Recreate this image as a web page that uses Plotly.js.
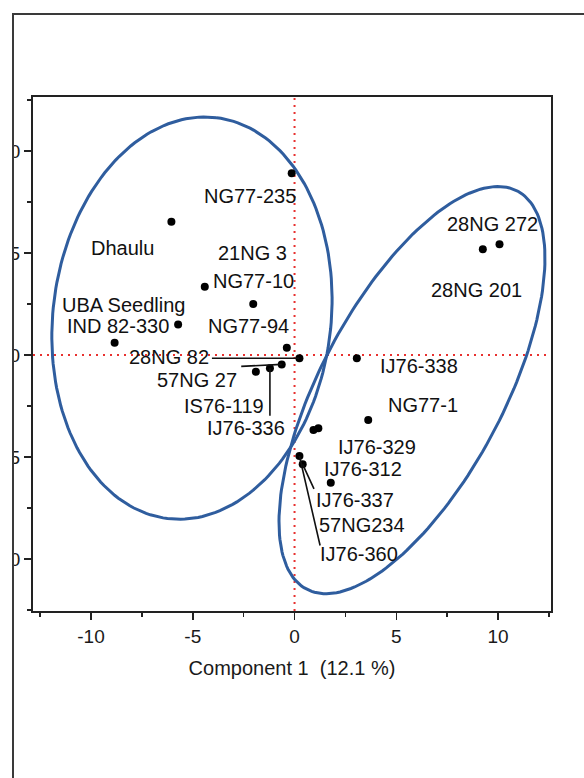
<!DOCTYPE html>
<html><head><meta charset="utf-8">
<script src="https://cdn.plot.ly/plotly-3.0.1.min.js"></script>
<style>html,body{margin:0;padding:0;background:#fff;} #chart{width:584px;height:778px;}</style>
</head><body><div id="chart"></div>
<script>
// ---- data ----
const names = ['NG77-235','Dhaulu','NG77-10','21NG 3','IND 82-330','UBA Seedling','NG77-94',
  '28NG 82','57NG 27','IJ76-336','IS76-119',
  '28NG 201','28NG 272','IJ76-338','NG77-1','IJ76-329','IJ76-312','IJ76-360','IJ76-337','57NG234'];
const component1 = [-0.14,-6.05,-4.41,-2.03,-5.72,-8.84,-0.38,
  0.24,-0.63,-1.21,-1.90,
  9.25,10.07,3.06,3.62,0.93,1.17,0.24,0.40,1.78];
const component2 = [8.91,6.53,3.35,2.50,1.50,0.60,0.36,
  -0.16,-0.46,-0.65,-0.82,
  5.18,5.43,-0.16,-3.19,-3.68,-3.59,-4.95,-5.36,-6.26];
const xTickVals = [-10,-5,0,5,10];
const xTickText = ['-10','-5','0','5','10'];
const yTickVals = [-10,-5,0,5,10];
const yTickText = ['-10','-5','0','5','10'];
const xTitle = 'Component 1\u00a0 (12.1 %)';

// group ellipses: [centerX, centerY, semiMajor, semiMinor, angleDeg]
const ellipseGroup1 = [-5.04, 1.81, 9.9, 6.83, 83];
const ellipseGroup2 = [5.77, -1.72, 11.05, 4.5, 62];

// ---- layout helpers (pixel offsets of labels / leader lines) ----
const labelOffsets = [[-42,23],[-49,26],[49,-6],[-1,-51],[-60,2],[9,-38],[-38,-22],
  [-130,-1],[-85,16],[-24,60],[-32,34],
  [-6,41],[-7,-20],[62,8],[55,-15],[64,17],[45,41],[60,98],[52,36],[31,42]];
const leaders = {'28NG 82':[-89,0],'57NG 27':[-42,2],'IJ76-336':[0,49],'IJ76-337':[12,26],'IJ76-360':[21,91]};

function ellipsePts(p){
  const [cx,cy,a,b,ang]=p; const t=ang*Math.PI/180; const xs=[],ys=[];
  for(let i=0;i<=200;i++){const s=2*Math.PI*i/200;
    const u=a*Math.cos(s), v=b*Math.sin(s);
    xs.push(cx+u*Math.cos(t)-v*Math.sin(t)); ys.push(cy+u*Math.sin(t)+v*Math.cos(t));}
  return {xs,ys};
}
const e1=ellipsePts(ellipseGroup1), e2=ellipsePts(ellipseGroup2);
const blue='#2f5d9e';
const FONT='Arial, "Liberation Sans", Helvetica, sans-serif';

const traces=[
  {x:e1.xs,y:e1.ys,mode:'lines',line:{color:blue,width:3},hoverinfo:'skip'},
  {x:e2.xs,y:e2.ys,mode:'lines',line:{color:blue,width:3},hoverinfo:'skip'},
  {x:component1,y:component2,mode:'markers',marker:{color:'#000',size:8},text:names}
];

const annotations=[];
names.forEach((n,i)=>{
  annotations.push({x:component1[i],y:component2[i],xref:'x',yref:'y',text:n,showarrow:false,
    xshift:labelOffsets[i][0],yshift:-labelOffsets[i][1],xanchor:'center',yanchor:'middle',
    font:{family:FONT,size:20,color:'#111'}});
  if(leaders[n]){
    annotations.push({x:component1[i],y:component2[i],xref:'x',yref:'y',text:'',showarrow:true,
      arrowhead:0,arrowwidth:1.6,arrowcolor:'#111',ax:leaders[n][0],ay:leaders[n][1],standoff:0,startstandoff:0});
  }
});

// plot area pixel geometry
const L=33,R=551,T=97,B=611,W=584,H=778;
const px=(v)=>(v-L)/(R-L), py=(v)=>(B-v)/(B-T);

const shapes=[
  {type:'line',xref:'x',yref:'paper',x0:0,x1:0,y0:0,y1:1,line:{color:'#e8312f',width:2,dash:'2px,5px'},layer:'below'},
  {type:'line',xref:'paper',yref:'y',x0:0,x1:1,y0:0,y1:0,line:{color:'#e8312f',width:2,dash:'2px,5px'},layer:'below'},
  {type:'rect',xref:'paper',yref:'paper',x0:px(-20),x1:px(12),y0:py(H+20),y1:py(-20),fillcolor:'#fff',line:{width:0},layer:'above'},
  {type:'line',xref:'paper',yref:'paper',x0:px(13),x1:px(13),y0:py(H+5),y1:py(13),line:{color:'#3a3a3a',width:2},layer:'above'},
  {type:'line',xref:'paper',yref:'paper',x0:px(13),x1:px(W+5),y0:py(14),y1:py(14),line:{color:'#3a3a3a',width:2},layer:'above'}
];

const axisCommon={showline:true,mirror:true,linecolor:'#222',linewidth:2,showgrid:false,zeroline:false,
  ticks:'outside',ticklen:7,tickwidth:1.5,tickcolor:'#222',tickfont:{family:FONT,size:19,color:'#1a1a1a'},
  minor:{dtick:2.5,tick0:0,ticks:'outside',ticklen:4,tickwidth:1.5,tickcolor:'#222'}};

const layout={
  width:W,height:H,showlegend:false,paper_bgcolor:'#fff',plot_bgcolor:'#fff',
  margin:{l:L,r:W-R,t:T,b:H-B,pad:0},
  xaxis:Object.assign({},axisCommon,{range:[-12.85,12.6],tickmode:'array',tickvals:xTickVals,ticktext:xTickText,
    title:{text:xTitle,font:{family:FONT,size:20,color:'#1a1a1a'},standoff:15}}),
  yaxis:Object.assign({},axisCommon,{range:[-12.55,12.65],tickmode:'array',tickvals:yTickVals,ticktext:yTickText}),
  annotations:annotations,shapes:shapes
};
Plotly.newPlot('chart',traces,layout,{displayModeBar:false,staticPlot:true});
</script></body></html>
